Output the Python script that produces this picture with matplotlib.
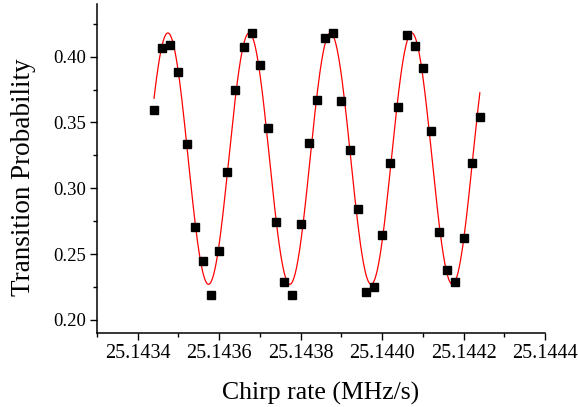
import numpy as np
import matplotlib
matplotlib.use("Agg")
import matplotlib.pyplot as plt
from matplotlib.ticker import MultipleLocator, FormatStrFormatter

# Measured data (chirp rate in MHz/s, transition probability)
chirp_rate = [
    25.14344, 25.14346, 25.14348, 25.14350, 25.14352, 25.14354, 25.14356,
    25.14358, 25.14360, 25.14362, 25.14364, 25.14366, 25.14368, 25.14370,
    25.14372, 25.14374, 25.14376, 25.14378, 25.14380, 25.14382, 25.14384,
    25.14386, 25.14388, 25.14390, 25.14392, 25.14394, 25.14396, 25.14398,
    25.14400, 25.14402, 25.14404, 25.14406, 25.14408, 25.14410, 25.14412,
    25.14414, 25.14416, 25.14418, 25.14420, 25.14422, 25.14424,
]
probability = [
    0.3596, 0.4067, 0.4085, 0.3883, 0.3338, 0.2705, 0.2448,
    0.2190, 0.2524, 0.3120, 0.3750, 0.4073, 0.4176, 0.3936,
    0.3460, 0.2745, 0.2290, 0.2185, 0.2730, 0.3340, 0.3670,
    0.4140, 0.4180, 0.3660, 0.3294, 0.2846, 0.2213, 0.2246,
    0.2648, 0.3188, 0.3614, 0.4163, 0.4080, 0.3910, 0.3436,
    0.2666, 0.2382, 0.2290, 0.2623, 0.3188, 0.3545,
]

# Sinusoidal fit parameters
fit_offset = 0.3225
fit_amplitude = 0.0955
fit_period = 0.0001996
fit_peak = 25.143474
fit_start = 25.14344
fit_end = 25.14424

xticks = [25.1434, 25.1436, 25.1438, 25.1440, 25.1442, 25.1444]
yticks = [0.20, 0.25, 0.30, 0.35, 0.40]

plt.rcParams['font.family'] = ['Liberation Serif', 'DejaVu Serif']

W, H = 578, 407
fig = plt.figure(figsize=(W / 100, H / 100), dpi=100)
ax = fig.add_axes([97 / W, 1 - 333 / H, (545 - 97) / W, (333 - 4) / H])

xf = np.linspace(fit_start, fit_end, 600)
yf = fit_offset + fit_amplitude * np.cos(2 * np.pi * (xf - fit_peak) / fit_period)
ax.plot(xf, yf, color='#ff0000', lw=0.9, zorder=2)

ax.plot(chirp_rate, probability, linestyle='none', marker='s', markersize=5.8,
        color='black', zorder=3)

ax.set_xlim(25.14330, 25.1444)
ax.set_ylim(0.19, 0.44)
ax.set_xticks(xticks)
ax.set_yticks(yticks)
ax.xaxis.set_major_formatter(FormatStrFormatter('%.4f'))
ax.yaxis.set_major_formatter(FormatStrFormatter('%.2f'))
ax.xaxis.set_minor_locator(MultipleLocator(0.0001))
ax.yaxis.set_minor_locator(MultipleLocator(0.025))

for s in ['top', 'right']:
    ax.spines[s].set_visible(False)
for s in ['left', 'bottom']:
    ax.spines[s].set_linewidth(1.1)

ax.tick_params(axis='both', which='major', direction='out', length=5, width=1.0, pad=3)
ax.tick_params(axis='x', which='major', labelsize=14.5)
ax.tick_params(axis='y', which='major', labelsize=13.5)
ax.tick_params(axis='both', which='minor', direction='out', length=3, width=1.0)

fig.text(321 / W, 1 - 400 / H, 'Chirp rate (MHz/s)', fontsize=18.5,
         ha='center', va='baseline')
fig.text(30 / W, 1 - 177.5 / H, 'Transition Probability', fontsize=19.5,
         ha='center', va='baseline', rotation=90, rotation_mode='anchor')

fig.savefig('out.png', dpi=100)
